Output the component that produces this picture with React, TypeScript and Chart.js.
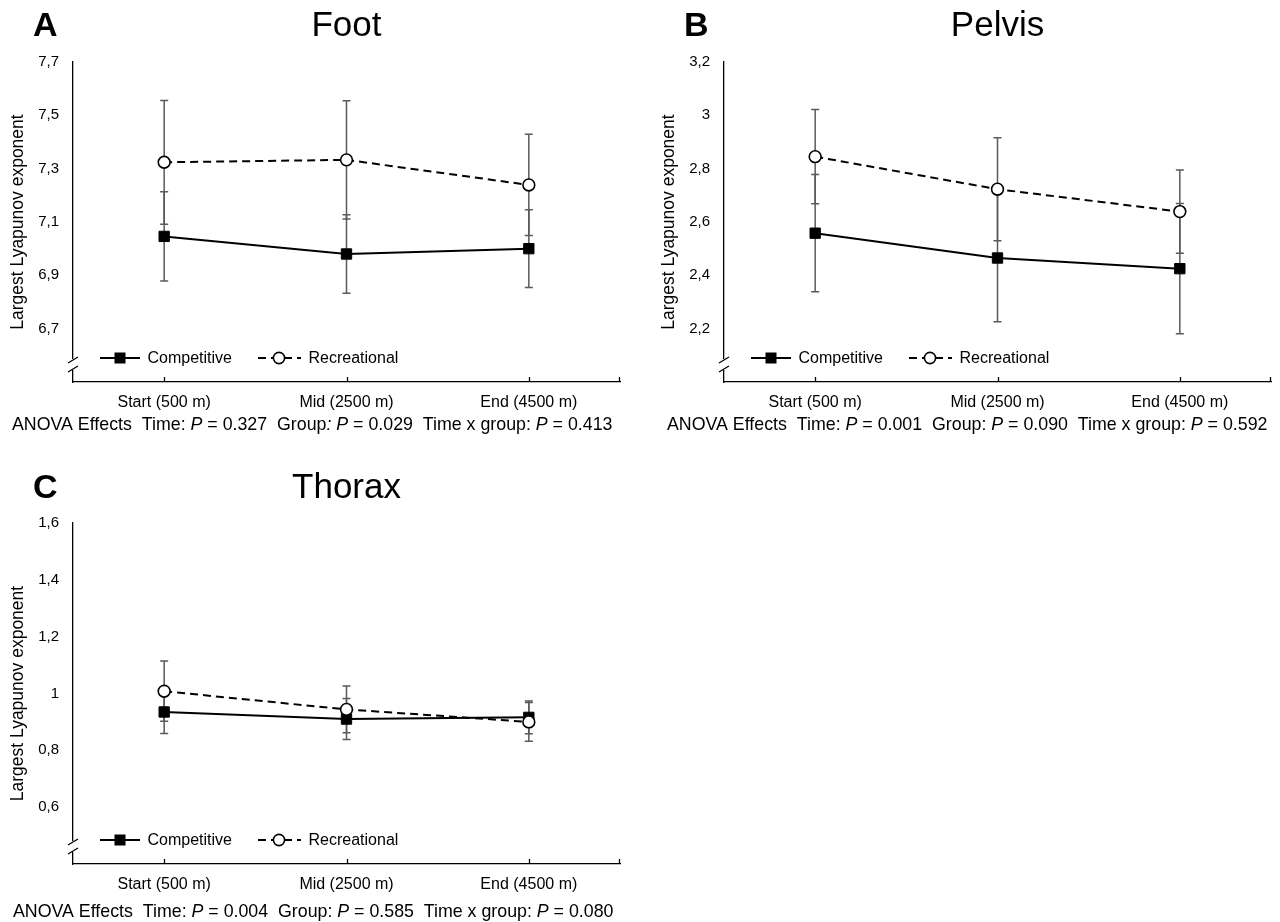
import React, { useEffect, useRef } from 'react';
import { Chart, registerables } from 'chart.js';

Chart.register(...registerables);

// ---------- data ----------
const categories = ['Start (500 m)', 'Mid (2500 m)', 'End (4500 m)'];
const seriesNames = ['Competitive', 'Recreational'];
const yAxisTitle = 'Largest Lyapunov exponent';

const footCompetitive = [7.046, 6.98, 7.0];
const footCompetitiveSD = [0.167, 0.147, 0.146];
const footRecreational = [7.324, 7.333, 7.239];
const footRecreationalSD = [0.232, 0.222, 0.19];
const footTicks = [6.5, 6.7, 6.9, 7.1, 7.3, 7.5, 7.7];
const footAnova = ['0.327', '0.029', '0.413'];

const pelvisCompetitive = [2.558, 2.465, 2.425];
const pelvisCompetitiveSD = [0.22, 0.239, 0.244];
const pelvisRecreational = [2.845, 2.723, 2.639];
const pelvisRecreationalSD = [0.177, 0.193, 0.156];
const pelvisTicks = [2.0, 2.2, 2.4, 2.6, 2.8, 3.0, 3.2];
const pelvisAnova = ['0.001', '0.090', '0.592'];

const thoraxCompetitive = [0.935, 0.91, 0.916];
const thoraxCompetitiveSD = [0.076, 0.072, 0.058];
const thoraxRecreational = [1.008, 0.944, 0.9];
const thoraxRecreationalSD = [0.106, 0.082, 0.068];
const thoraxTicks = [0.4, 0.6, 0.8, 1.0, 1.2, 1.4, 1.6];
const thoraxAnova = ['0.004', '0.585', '0.080'];

const FONT = '"Liberation Sans", Arial, Helvetica, sans-serif';

function fmtTick(v: number): string {
  return String(Math.round(v * 10) / 10).replace('.', ',');
}

type PanelProps = {
  letter: string;
  title: string;
  comp: number[];
  compSD: number[];
  rec: number[];
  recSD: number[];
  ticks: number[];
  anova: string[];
  italicGroupColon?: boolean;
  x: number;
  y: number;
  w: number;
  h: number;
  axisLeft: number;
  areaTop: number;
  areaBottom: number;
  areaRight: number;
  anovaX: number;
  anovaY: number;
  titleY: number;
};

function Panel(p: PanelProps) {
  const ref = useRef<HTMLCanvasElement>(null);

  useEffect(() => {
    const canvas = ref.current;
    if (!canvas) return;
    const sds = [p.compSD, p.recSD];

    const errorBars = {
      id: 'errorBars',
      beforeDatasetsDraw(chart: any) {
        const ctx = chart.ctx;
        const ys = chart.scales.y;
        ctx.save();
        ctx.strokeStyle = '#5a5a5a';
        ctx.lineWidth = 1.5;
        chart.data.datasets.forEach((ds: any, i: number) => {
          const meta = chart.getDatasetMeta(i);
          meta.data.forEach((pt: any, j: number) => {
            const v = ds.data[j] as number;
            const sd = sds[i][j];
            const px = pt.x;
            const yt = ys.getPixelForValue(v + sd);
            const yb = ys.getPixelForValue(v - sd);
            ctx.beginPath();
            ctx.moveTo(px, yt);
            ctx.lineTo(px, yb);
            ctx.moveTo(px - 4, yt);
            ctx.lineTo(px + 4, yt);
            ctx.moveTo(px - 4, yb);
            ctx.lineTo(px + 4, yb);
            ctx.stroke();
          });
        });
        ctx.restore();
      },
    };

    const decor = {
      id: 'decor',
      afterDraw(chart: any) {
        const ctx = chart.ctx as CanvasRenderingContext2D;
        const ca = chart.chartArea;
        const xs = chart.scales.x;
        ctx.save();

        // inward x tick marks
        ctx.strokeStyle = '#000';
        ctx.lineWidth = 1.3;
        ctx.beginPath();
        for (let i = 0; i < xs.ticks.length; i++) {
          const px = Math.round(xs.getPixelForTick(i)) + 0.5;
          ctx.moveTo(px, ca.bottom);
          ctx.lineTo(px, ca.bottom - 5);
        }
        ctx.moveTo(ca.right - 0.5, ca.bottom);
        ctx.lineTo(ca.right - 0.5, ca.bottom - 5);
        ctx.stroke();

        // axis break
        const ax = ca.left;
        ctx.fillStyle = '#fff';
        ctx.fillRect(ax - 3, ca.bottom - 23, 6, 11);
        ctx.beginPath();
        [ca.bottom - 22, ca.bottom - 13].forEach((c) => {
          ctx.moveTo(ax - 5, c + 3);
          ctx.lineTo(ax + 5, c - 3);
        });
        ctx.stroke();

        // legend
        const ly = ca.bottom - 24;
        const items = [
          { x0: 27, x1: 67, xm: 47, xt: 74.5 },
          { x0: 185, x1: 228, xm: 206, xt: 235.5 },
        ];
        ctx.font = `16px ${FONT}`;
        ctx.textBaseline = 'middle';
        ctx.textAlign = 'left';
        chart.data.datasets.forEach((ds: any, i: number) => {
          const it = items[i];
          ctx.strokeStyle = ds.borderColor;
          ctx.lineWidth = ds.borderWidth;
          ctx.setLineDash(ds.borderDash || []);
          ctx.beginPath();
          ctx.moveTo(ax + it.x0, ly);
          ctx.lineTo(ax + it.x1, ly);
          ctx.stroke();
          ctx.setLineDash([]);
          if (ds.pointStyle === 'rect') {
            ctx.fillStyle = ds.pointBackgroundColor;
            ctx.fillRect(ax + it.xm - 5.5, ly - 5.5, 11, 11);
          } else {
            ctx.beginPath();
            ctx.arc(ax + it.xm, ly, 5.6, 0, Math.PI * 2);
            ctx.fillStyle = ds.pointBackgroundColor;
            ctx.fill();
            ctx.lineWidth = ds.pointBorderWidth;
            ctx.strokeStyle = ds.pointBorderColor;
            ctx.stroke();
          }
          ctx.fillStyle = '#000';
          ctx.fillText(ds.label, ax + it.xt, ly + 1);
        });

        // panel letter and title
        ctx.fillStyle = '#000';
        ctx.textBaseline = 'alphabetic';
        ctx.textAlign = 'left';
        ctx.font = `bold 34px ${FONT}`;
        ctx.fillText(p.letter, ax - 40, p.titleY);
        ctx.textAlign = 'center';
        ctx.font = `35px ${FONT}`;
        ctx.fillText(p.title, (ca.left + ca.right) / 2, p.titleY);

        // ANOVA line
        const segs: [string, boolean][] = [
          ['ANOVA Effects  Time: ', false],
          ['P', true],
          [` = ${p.anova[0]}  Group`, false],
          [':', !!p.italicGroupColon],
          [' ', false],
          ['P', true],
          [` = ${p.anova[1]}  Time x group: `, false],
          ['P', true],
          [` = ${p.anova[2]}`, false],
        ];
        ctx.textAlign = 'left';
        ctx.textBaseline = 'middle';
        let tx = p.anovaX;
        segs.forEach(([s, it]) => {
          ctx.font = `${it ? 'italic ' : ''}17.8px ${FONT}`;
          ctx.fillText(s, tx, p.anovaY);
          tx += ctx.measureText(s).width;
        });

        ctx.restore();
      },
    };

    const chart = new Chart(canvas, {
      type: 'line',
      data: {
        labels: categories,
        datasets: [
          {
            label: seriesNames[0],
            data: p.comp,
            borderColor: '#000',
            backgroundColor: '#000',
            borderWidth: 2,
            pointStyle: 'rect',
            pointRadius: 7.3,
            pointBackgroundColor: '#000',
            pointBorderColor: '#000',
            pointBorderWidth: 1,
            order: 2,
          },
          {
            label: seriesNames[1],
            data: p.rec,
            borderColor: '#000',
            backgroundColor: '#fff',
            borderWidth: 2,
            borderDash: [8, 5],
            pointStyle: 'circle',
            pointRadius: 5.9,
            pointBackgroundColor: '#fff',
            pointBorderColor: '#000',
            pointBorderWidth: 1.6,
            order: 1,
          },
        ] as any,
      },
      options: {
        animation: false,
        responsive: false,
        devicePixelRatio: 1,
        events: [],
        layout: {
          padding: {
            left: p.axisLeft - 73,
            right: p.w - p.areaRight,
            top: p.areaTop,
            bottom: 0,
          },
        },
        plugins: {
          legend: { display: false },
          tooltip: { enabled: false },
          title: { display: false },
        },
        scales: {
          x: {
            type: 'category',
            offset: true,
            grid: { display: false, drawTicks: false },
            border: { display: true, color: '#000', width: 1.3 },
            ticks: {
              color: '#000',
              padding: 11,
              maxRotation: 0,
              autoSkip: false,
              font: { family: FONT, size: 16 },
            },
            afterFit: (s: any) => {
              s.height = p.h - p.areaBottom;
            },
          },
          y: {
            type: 'linear',
            min: p.ticks[0],
            max: p.ticks[p.ticks.length - 1],
            afterBuildTicks: (s: any) => {
              s.ticks = p.ticks.map((v) => ({ value: v }));
            },
            grid: { display: false, drawTicks: false },
            border: { display: true, color: '#000', width: 1.3 },
            ticks: {
              color: '#000',
              padding: 14,
              font: { family: FONT, size: 15 },
              callback: (v: any, i: number) => (i === 0 ? '' : fmtTick(Number(v))),
            },
            title: {
              display: true,
              text: yAxisTitle,
              color: '#000',
              font: { family: FONT, size: 17.5 },
              padding: { top: 8, bottom: 0 },
            },
            afterFit: (s: any) => {
              s.width = 73;
            },
          },
        },
      } as any,
      plugins: [errorBars, decor],
    });

    return () => chart.destroy();
  }, []);

  return (
    <canvas
      ref={ref}
      width={p.w}
      height={p.h}
      style={{ position: 'absolute', left: p.x, top: p.y, width: p.w, height: p.h }}
    />
  );
}

export default function App() {
  return (
    <div
      style={{
        position: 'absolute',
        left: 0,
        top: 0,
        width: 1280,
        height: 922,
        background: '#fff',
        overflow: 'hidden',
      }}
    >
      <Panel
        letter="A"
        title="Foot"
        comp={footCompetitive}
        compSD={footCompetitiveSD}
        rec={footRecreational}
        recSD={footRecreationalSD}
        ticks={footTicks}
        anova={footAnova}
        italicGroupColon
        x={0}
        y={0}
        w={640}
        h={440}
        axisLeft={73}
        areaTop={62}
        areaBottom={382}
        areaRight={620}
        anovaX={12}
        anovaY={425}
        titleY={36}
      />
      <Panel
        letter="B"
        title="Pelvis"
        comp={pelvisCompetitive}
        compSD={pelvisCompetitiveSD}
        rec={pelvisRecreational}
        recSD={pelvisRecreationalSD}
        ticks={pelvisTicks}
        anova={pelvisAnova}
        x={640}
        y={0}
        w={640}
        h={440}
        axisLeft={84}
        areaTop={62}
        areaBottom={382}
        areaRight={631}
        anovaX={27}
        anovaY={425}
        titleY={36}
      />
      <Panel
        letter="C"
        title="Thorax"
        comp={thoraxCompetitive}
        compSD={thoraxCompetitiveSD}
        rec={thoraxRecreational}
        recSD={thoraxRecreationalSD}
        ticks={thoraxTicks}
        anova={thoraxAnova}
        x={0}
        y={460}
        w={640}
        h={462}
        axisLeft={73}
        areaTop={63}
        areaBottom={404}
        areaRight={620}
        anovaX={13}
        anovaY={452}
        titleY={38}
      />
    </div>
  );
}
